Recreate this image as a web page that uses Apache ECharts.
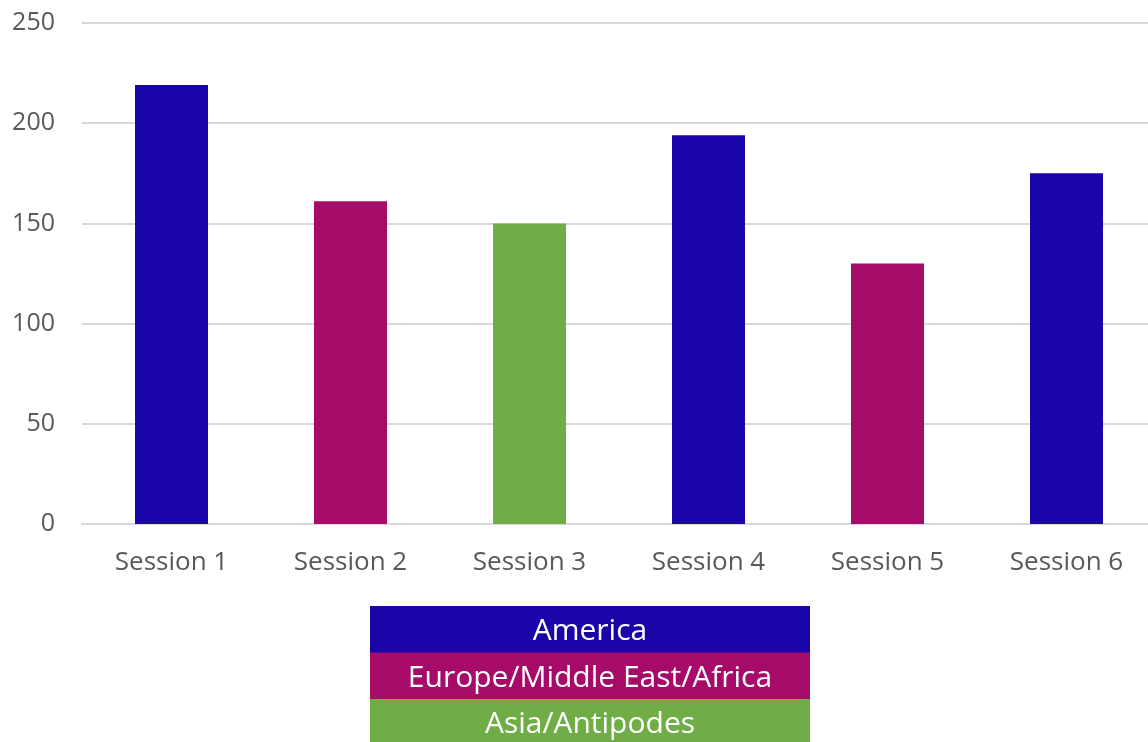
<!DOCTYPE html>
<html>
<head>
<meta charset="utf-8">
<script src="https://cdn.jsdelivr.net/npm/echarts@6/dist/echarts.min.js"></script>
<style>
html,body{margin:0;padding:0;background:#fff;overflow:hidden;}
#chart{width:1156px;height:742px;}
</style>
</head>
<body>
<div id="chart"></div>
<script>
const categories = ['Session 1','Session 2','Session 3','Session 4','Session 5','Session 6'];
const seriesNames = ['America','Europe/Middle East/Africa','Asia/Antipodes'];
const america = [219, null, null, 194, null, 175];
const emea    = [null, 161, null, null, 130, null];
const asia    = [null, null, 150, null, null, null];
const yTicks  = [0, 50, 100, 150, 200, 250];
const colors  = ['#1a06a8', '#a60b6a', '#70ad47'];

const FONT = '"Open Sans", "Noto Sans", sans-serif';
const seriesData = [america, emea, asia];

const legendLeft = 370, legendTop = 606, legendW = 440, rowH = 46.5;
const legendGraphics = seriesNames.map((name, i) => ({
  type: 'rect',
  left: legendLeft,
  top: legendTop + i * rowH,
  shape: { width: legendW, height: rowH + 0.5 },
  style: { fill: colors[i] },
  textContent: {
    style: { text: name, fill: '#fff', font: '30px ' + FONT }
  },
  textConfig: { position: 'inside', offset: [0, 2] }
}));

const chart = echarts.init(document.getElementById('chart'), null, { renderer: 'canvas' });
chart.setOption({
  animation: false,
  backgroundColor: '#fff',
  grid: { left: 82, top: 23, right: 0, bottom: 218, containLabel: false },
  xAxis: {
    type: 'category',
    data: categories,
    axisLine: { show: true, lineStyle: { color: '#d9d9d9', width: 2 } },
    axisTick: { show: false },
    axisLabel: { color: '#595959', fontSize: 26, fontFamily: FONT, margin: 26 }
  },
  yAxis: {
    type: 'value',
    min: yTicks[0],
    max: yTicks[yTicks.length - 1],
    interval: yTicks[1] - yTicks[0],
    axisLine: { show: false },
    axisTick: { show: false },
    splitLine: { lineStyle: { color: '#d9d9d9', width: 2 } },
    axisLabel: { color: '#595959', fontSize: 25, fontFamily: FONT, margin: 27 }
  },
  series: seriesNames.map((name, i) => ({
    name: name,
    type: 'bar',
    stack: 'sessions',
    data: seriesData[i],
    barWidth: 73,
    itemStyle: { color: colors[i] }
  })),
  graphic: legendGraphics
});
</script>
</body>
</html>
